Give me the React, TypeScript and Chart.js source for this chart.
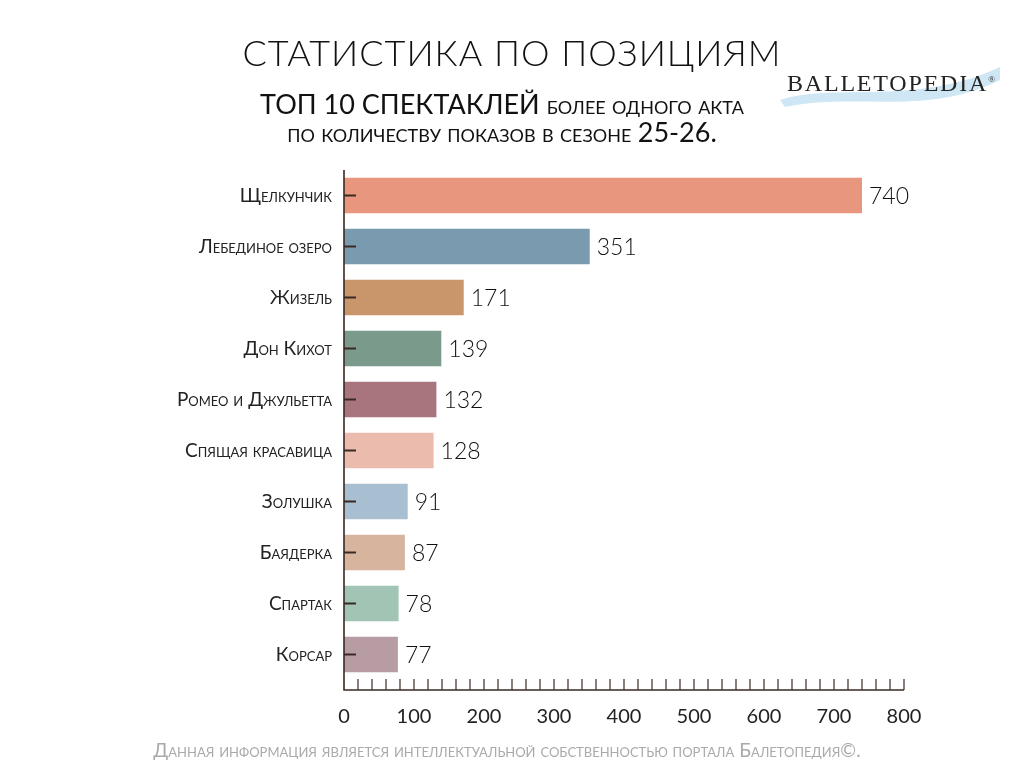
import React, { useEffect, useRef } from "react";
import { Chart, registerables } from "chart.js";
Chart.register(...registerables);

const categories = ["Щелкунчик", "Лебединое озеро", "Жизель", "Дон Кихот", "Ромео и Джульетта", "Спящая красавица", "Золушка", "Баядерка", "Спартак", "Корсар"];
const shows = [740, 351, 171, 139, 132, 128, 91, 87, 78, 77];
const colors = ["#E8967D", "#7A9AB0", "#C9956A", "#7A9A8B", "#A8747E", "#EBBCAE", "#A7BFD0", "#D6B49E", "#A2C4B4", "#B89CA3"];
const xTicks = [0, 100, 200, 300, 400, 500, 600, 700, 800];
const FONT = "Lato, 'Open Sans', sans-serif";

const axisPlugin = {
  id: "axisPlugin",
  afterDatasetsDraw(chart: any) {
    const ctx = chart.ctx;
    const x = chart.scales.x, y = chart.scales.y;
    const x0 = x.getPixelForValue(0);
    const axisY = 690;
    ctx.save();
    ctx.strokeStyle = "#3a2a24";
    ctx.lineWidth = 1.6;
    ctx.beginPath();
    ctx.moveTo(x0, chart.chartArea.top);
    ctx.lineTo(x0, axisY);
    ctx.lineTo(x.getPixelForValue(800), axisY);
    ctx.stroke();
    ctx.lineWidth = 1.2;
    for (let v = 20; v <= 800; v += 20) {
      const px = x.getPixelForValue(v);
      ctx.beginPath(); ctx.moveTo(px, axisY); ctx.lineTo(px, axisY - 11); ctx.stroke();
    }
    ctx.fillStyle = "#222";
    ctx.font = `20px ${FONT}`;
    ctx.textAlign = "center";
    ctx.textBaseline = "middle";
    xTicks.forEach((v) => ctx.fillText(String(v), x.getPixelForValue(v), 717));
    ctx.textAlign = "right";
    ctx.font = `19px ${FONT}`;
    (ctx as any).fontVariantCaps = "small-caps";
    categories.forEach((c, i) => {
      const py = y.getPixelForValue(i);
      ctx.fillText(c, 332, py);
      ctx.lineWidth = 2;
      ctx.beginPath(); ctx.moveTo(x0, py); ctx.lineTo(x0 + 12, py); ctx.stroke();
    });
    (ctx as any).fontVariantCaps = "normal";
    ctx.textAlign = "left";
    ctx.font = `300 23px ${FONT}`;
    ctx.fillStyle = "#111";
    shows.forEach((v, i) => {
      ctx.fillText(String(v), x.getPixelForValue(v) + 7, y.getPixelForValue(i) + 1);
    });
    ctx.restore();
  },
};

export default function App() {
  const ref = useRef<HTMLCanvasElement>(null);
  useEffect(() => {
    const chart = new Chart(ref.current!, {
      type: "bar",
      data: { labels: categories, datasets: [{ data: shows, backgroundColor: colors, barPercentage: 1, categoryPercentage: 0.7 }] },
      options: {
        indexAxis: "y",
        animation: false,
        responsive: false,
        layout: { padding: { left: 344, right: 120, top: 170, bottom: 88 } },
        plugins: { legend: { display: false }, tooltip: { enabled: false } },
        scales: { x: { display: false, min: 0, max: 800 }, y: { display: false } },
      },
      plugins: [axisPlugin],
    });
    return () => chart.destroy();
  }, []);
  return (
    <div style={{ position: "absolute", left: 0, top: 0, width: 1024, height: 768, background: "#fff", fontFamily: FONT, color: "#111" }}>
      <canvas ref={ref} width={1024} height={768} style={{ position: "absolute", left: 0, top: 0 }} />
      <div style={{ position: "absolute", left: 0, width: 1024, top: 30, textAlign: "center", fontSize: 36, fontWeight: 300, letterSpacing: 1 }}>СТАТИСТИКА ПО ПОЗИЦИЯМ</div>
      <div style={{ position: "absolute", left: -10, width: 1024, top: 90, textAlign: "center", fontSize: 27, fontVariant: "small-caps", lineHeight: "28px", fontWeight: 400 }}>
        ТОП 10 СПЕКТАКЛЕЙ <span style={{ fontSize: 25 }}>более одного акта</span><br />
        <span style={{ fontSize: 25 }}>по количеству показов в сезоне </span><span>25-26.</span>
      </div>
      <svg width={230} height={50} style={{ position: "absolute", left: 775, top: 62 }}>
        <path d="M5 38 C 60 20, 140 45, 225 5 L 225 18 C 150 55, 80 30, 10 45 Z" fill="#cfe6f5" />
      </svg>
      <div style={{ position: "absolute", left: 787, top: 70, fontFamily: "'Liberation Serif', serif", fontSize: 24, letterSpacing: 1.8, color: "#222" }}>
        BALLETOPEDIA<sup style={{ fontSize: 9 }}>®</sup>
      </div>
      <div style={{ position: "absolute", left: -5, width: 1024, top: 738, textAlign: "center", fontSize: 19, fontVariant: "small-caps", color: "#aaa" }}>
        Данная информация является интеллектуальной собственностью портала Балетопедия©.
      </div>
    </div>
  );
}
